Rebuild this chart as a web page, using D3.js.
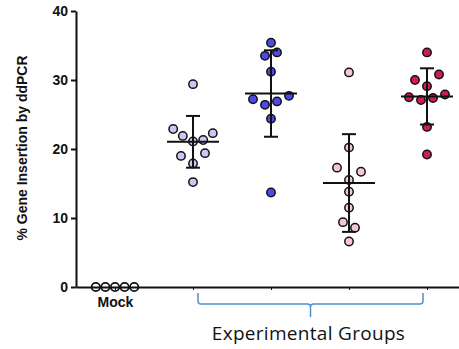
<!DOCTYPE html>
<html>
<head>
<meta charset="utf-8">
<script src="https://cdn.jsdelivr.net/npm/d3@7"></script>
<style>
  body { margin: 0; background: #fff; }
  svg { display: block; }
  .axis text { font-family: "Liberation Sans", Arial, sans-serif; font-weight: bold; fill: #111; }
</style>
</head>
<body>
<div id="chart"></div>
<script>
// groups along the x axis (only Mock is labelled)
var groups = ["Mock", "Group A", "Group B", "Group C", "Group D"];
var groupColors = ["#ffffff", "#c8c8f6", "#4b4bec", "#f7c6da", "#d2195c"];

// % gene insertion per replicate
var mockValues = [0, 0, 0, 0, 0];
var groupAValues = [29.4, 22.9, 21.9, 21.1, 21.3, 22.3, 19.0, 19.4, 17.9, 15.2];
var groupBValues = [35.4, 33.5, 34.0, 31.2, 27.2, 26.4, 26.9, 27.7, 24.4, 13.7];
var groupCValues = [31.1, 20.2, 17.3, 16.7, 15.5, 13.8, 11.5, 9.4, 8.6, 6.6];
var groupDValues = [34.0, 30.8, 30.0, 29.1, 27.5, 27.1, 27.4, 27.9, 23.2, 19.2];

// scatter slot of each dot (beeswarm spread, in half-dot units)
var mockSlots = [-3.2, -1.6, 0, 1.6, 3.2];
var groupASlots = [0, -3.3, -1.7, 0, 1.7, 3.3, -2, 2, 0, 0];
var groupBSlots = [0, -1, 1, 0, -3, -1, 1, 3, 0, 0];
var groupCSlots = [0, 0, -2, 2, 0, 0, 0, -1, 1, 0];
var groupDSlots = [0, 2, -2, 0, -3, -1, 1, 3, 0, 0];

var yTicks = [0, 10, 20, 30, 40];
var yLabel = "% Gene Insertion by ddPCR";
var bracketLabel = "Experimental Groups";

var allValues = [mockValues, groupAValues, groupBValues, groupCValues, groupDValues];
var allSlots = [mockSlots, groupASlots, groupBSlots, groupCSlots, groupDSlots];

var width = 459, height = 349;
var slotPx = 6, r = 4.2;

var svg = d3.select("#chart").append("svg")
  .attr("width", width)
  .attr("height", height);

var x = d3.scalePoint()
  .domain(groups)
  .range([76, 466])
  .padding(0.5);

var y = d3.scaleLinear()
  .domain([0, 40])
  .range([287, 11]);

// y axis
var yAxis = svg.append("g")
  .attr("class", "axis")
  .attr("transform", "translate(76,0)")
  .call(d3.axisLeft(y).tickValues(yTicks).tickSize(5).tickSizeOuter(0).tickPadding(3));
yAxis.selectAll("path, line").attr("stroke", "#111").attr("stroke-width", 2);
yAxis.selectAll("text").style("font-size", "14px");

svg.append("text")
  .attr("transform", "translate(27," + (y(20) - 1) + ") rotate(-90)")
  .attr("text-anchor", "middle")
  .style("font-family", "'Liberation Sans', Arial, sans-serif")
  .style("font-weight", "bold")
  .style("font-size", "14px")
  .style("fill", "#111")
  .text(yLabel);

// points
var points = [];
groups.forEach(function (g, gi) {
  allValues[gi].forEach(function (v, i) {
    points.push({ group: g, gi: gi, value: v, slot: allSlots[gi][i] });
  });
});

svg.append("g").selectAll("circle")
  .data(points)
  .enter()
  .append("circle")
  .attr("cx", function (d) { return x(d.group) + d.slot * slotPx; })
  .attr("cy", function (d) { return y(d.value); })
  .attr("r", r)
  .attr("fill", function (d) { return groupColors[d.gi]; })
  .attr("stroke", "#111")
  .attr("stroke-width", function (d) { return d.gi === 0 ? 1.8 : 1.5; });

// x axis (drawn after dots so the line crosses the mock circles)
var xAxis = svg.append("g")
  .attr("class", "axis")
  .attr("transform", "translate(0," + y(0) + ")")
  .call(d3.axisBottom(x).tickSize(3).tickSizeOuter(0).tickPadding(7)
    .tickFormat(function (d) { return d === "Mock" ? d : ""; }));
xAxis.select("path").attr("stroke", "#111").attr("stroke-width", 2);
xAxis.selectAll("line").attr("stroke", "#111").attr("stroke-width", 1);
xAxis.selectAll("text").style("font-size", "14px");

// mean +/- SD
var stats = groups.map(function (g, gi) {
  var vals = allValues[gi];
  return { group: g, mean: d3.mean(vals), sd: d3.deviation(vals) || 0 };
});

var err = svg.append("g")
  .attr("stroke", "#111")
  .attr("stroke-width", 2)
  .selectAll("g")
  .data(stats.filter(function (d) { return d.sd > 0; }))
  .enter()
  .append("g");

err.append("line")
  .attr("x1", function (d) { return x(d.group) - 26; })
  .attr("x2", function (d) { return x(d.group) + 26; })
  .attr("y1", function (d) { return y(d.mean); })
  .attr("y2", function (d) { return y(d.mean); });
err.append("line")
  .attr("x1", function (d) { return x(d.group); })
  .attr("x2", function (d) { return x(d.group); })
  .attr("y1", function (d) { return y(d.mean + d.sd); })
  .attr("y2", function (d) { return y(d.mean - d.sd); });
err.append("line")
  .attr("x1", function (d) { return x(d.group) - 7; })
  .attr("x2", function (d) { return x(d.group) + 7; })
  .attr("y1", function (d) { return y(d.mean + d.sd); })
  .attr("y2", function (d) { return y(d.mean + d.sd); });
err.append("line")
  .attr("x1", function (d) { return x(d.group) - 7; })
  .attr("x2", function (d) { return x(d.group) + 7; })
  .attr("y1", function (d) { return y(d.mean - d.sd); })
  .attr("y2", function (d) { return y(d.mean - d.sd); });

// curly bracket under the experimental groups
var bx0 = x(groups[1]) + 5, bx1 = x(groups[4]) - 4;
var bmid = (bx0 + bx1) / 2;
var bTop = 293, bMid = 304, bTip = 317, bc = 3;
var path = d3.path();
path.moveTo(bx0, bTop);
path.lineTo(bx0, bMid - bc);
path.quadraticCurveTo(bx0, bMid, bx0 + bc, bMid);
path.lineTo(bmid - bc, bMid);
path.quadraticCurveTo(bmid, bMid, bmid, bMid + bc);
path.lineTo(bmid, bTip);
path.moveTo(bmid, bMid + bc);
path.quadraticCurveTo(bmid, bMid, bmid + bc, bMid);
path.lineTo(bx1 - bc, bMid);
path.quadraticCurveTo(bx1, bMid, bx1, bMid - bc);
path.lineTo(bx1, bTop);

svg.append("path")
  .attr("d", path.toString())
  .attr("fill", "none")
  .attr("stroke", "#4f8fcf")
  .attr("stroke-width", 1.5);

svg.append("text")
  .attr("x", bmid - 2)
  .attr("y", 340)
  .attr("text-anchor", "middle")
  .style("font-family", "'Open Sans', Lato, sans-serif")
  .style("font-size", "19px")
  .style("letter-spacing", "0.3px")
  .style("fill", "#111")
  .text(bracketLabel);
</script>
</body>
</html>
